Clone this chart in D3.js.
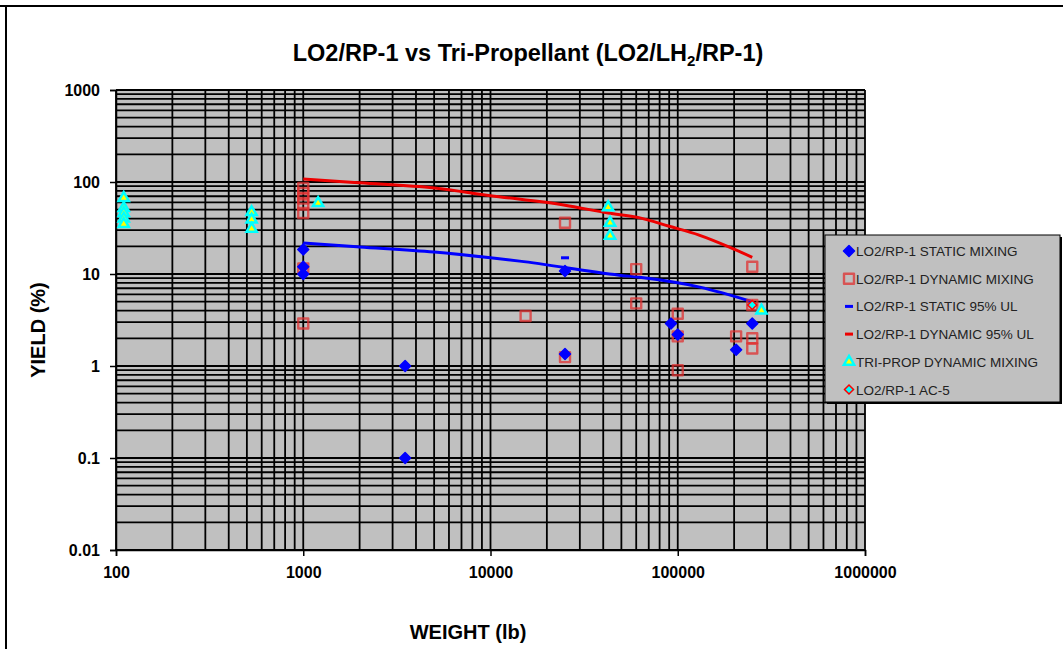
<!DOCTYPE html>
<html>
<head>
<meta charset="utf-8">
<script src="https://cdn.jsdelivr.net/npm/d3@7/dist/d3.min.js"></script>
<style>
  html, body { margin: 0; padding: 0; background: #fff; }
  svg { display: block; font-family: "Liberation Sans", Arial, sans-serif; }
</style>
</head>
<body>
<svg id="chart" width="1063" height="649"></svg>
<script>
// ---- data (weight lb, yield %) ----
const xTicks = [100, 1000, 10000, 100000, 1000000];
const xTickLabels = ["100", "1000", "10000", "100000", "1000000"];
const yTicks = [0.01, 0.1, 1, 10, 100, 1000];
const yTickLabels = ["0.01", "0.1", "1", "10", "100", "1000"];

const staticMixing = [
  [1000, 18.5], [1000, 12], [1000, 10], [3500, 1.0], [3500, 0.1],
  [25000, 10.8], [25000, 1.35], [92000, 2.9], [100000, 2.2],
  [205000, 1.5], [250000, 2.9]
];
const dynamicMixing = [
  [1000, 86], [1000, 76], [1000, 66], [1000, 57], [1000, 46], [1000, 11.5], [1000, 2.9],
  [15400, 3.5], [25000, 36], [25000, 1.25], [60000, 11.3], [60000, 4.8],
  [100000, 3.7], [100000, 2.1], [100000, 0.9], [205000, 2.1],
  [250000, 12], [250000, 4.6], [250000, 2.0], [250000, 1.55]
];
const staticUL = [
  [1000, 21.7], [2000, 19.7], [5000, 17.3], [10000, 15], [14300, 13.8],
  [48700, 9.7], [62400, 9.2], [131000, 7.2], [250000, 5.0]
];
const staticULMarks = [[25000, 15]];
const dynamicUL = [
  [1000, 108], [2000, 98], [5000, 86], [10000, 71], [25000, 56],
  [42500, 46], [62000, 41], [90000, 33], [130000, 26.5], [190000, 19.5], [250000, 15.2]
];
const triProp = [
  [110, 67], [110, 52], [110, 46], [110, 40], [110, 35],
  [530, 47], [530, 39], [530, 31], [1200, 59],
  [42500, 53], [43500, 36], [43500, 26], [280000, 4.0]
];
const ac5 = [[250000, 4.6]];

const legendLabels = [
  "LO2/RP-1 STATIC MIXING", "LO2/RP-1 DYNAMIC MIXING", "LO2/RP-1 STATIC 95% UL",
  "LO2/RP-1 DYNAMIC 95% UL", "TRI-PROP DYNAMIC MIXING", "LO2/RP-1 AC-5"
];

// ---- drawing ----
const svg = d3.select("#chart");
const L = 116, R = 865, T = 90, B = 550;
const x = d3.scaleLog().domain([100, 1e6]).range([L, R]);
const y = d3.scaleLog().domain([0.01, 1000]).range([B, T]);

// outer frame
svg.append("path").attr("d", "M0,6 H1063 M6,6 V649")
  .attr("stroke", "#000").attr("stroke-width", 2).attr("fill", "none");

// plot background
svg.append("rect").attr("x", L).attr("y", T).attr("width", R - L).attr("height", B - T)
  .attr("fill", "#c0c0c0");

// grid values
function logGrid(lo, hi) {
  const v = [];
  for (let e = Math.log10(lo); e < Math.log10(hi); e++) {
    for (let k = 1; k <= 9; k++) v.push(k * Math.pow(10, e));
  }
  v.push(hi);
  return v;
}
const grid = svg.append("g");
grid.selectAll("line.gx").data(logGrid(100, 1e6)).enter().append("line")
  .attr("x1", d => x(d)).attr("x2", d => x(d)).attr("y1", T).attr("y2", B)
  .attr("stroke", "#000").attr("stroke-width", 1.8);
grid.selectAll("line.gy").data(logGrid(0.01, 1000)).enter().append("line")
  .attr("y1", d => y(d)).attr("y2", d => y(d)).attr("x1", L).attr("x2", R)
  .attr("stroke", "#000").attr("stroke-width", 1.8);

// axes
const xAxis = d3.axisBottom(x).tickValues(xTicks)
  .tickFormat((d, i) => xTickLabels[i]).tickSize(6).tickPadding(11);
const yAxis = d3.axisLeft(y).tickValues(yTicks)
  .tickFormat((d, i) => yTickLabels[i]).tickSize(6).tickPadding(10);
const gx = svg.append("g").attr("transform", `translate(0,${B})`).call(xAxis);
const gy = svg.append("g").attr("transform", `translate(${L},0)`).call(yAxis);
[gx, gy].forEach(g => {
  g.selectAll("path, line").attr("stroke", "#000").attr("stroke-width", 1.5);
  g.selectAll("text").attr("font-size", 16).attr("font-weight", "bold")
    .attr("fill", "#000").attr("font-family", "Liberation Sans, Arial, sans-serif");
});

// title
const title = svg.append("text").attr("x", 528).attr("y", 61).attr("text-anchor", "middle")
  .attr("font-size", 23.5).attr("font-weight", "bold").attr("fill", "#000");
title.append("tspan").text("LO2/RP-1 vs Tri-Propellant (LO2/LH");
title.append("tspan").attr("font-size", 15).attr("dy", 5).text("2");
title.append("tspan").attr("dy", -5).text("/RP-1)");

// axis titles
svg.append("text").attr("transform", "translate(45,330) rotate(-90)")
  .attr("text-anchor", "middle").attr("font-size", 20).attr("font-weight", "bold")
  .text("YIELD (%)");
svg.append("text").attr("x", 468).attr("y", 639).attr("text-anchor", "middle")
  .attr("font-size", 20).attr("font-weight", "bold").text("WEIGHT (lb)");

// lines
const line = d3.line().x(d => x(d[0])).y(d => y(d[1])).curve(d3.curveMonotoneX);
svg.append("path").datum(dynamicUL).attr("d", line)
  .attr("fill", "none").attr("stroke", "#ee0000").attr("stroke-width", 3);
svg.append("path").datum(staticUL).attr("d", line)
  .attr("fill", "none").attr("stroke", "#0000ff").attr("stroke-width", 3);

// marker shapes
const diamondPath = r => `M0,${-r}L${r},0L0,${r}L${-r},0Z`;
const squareSym = d3.symbol().type(d3.symbolSquare).size(100);
const triSym = d3.symbol().type(d3.symbolTriangle).size(45);

function drawStatic(g, px, py) {
  g.append("path").attr("d", diamondPath(5.5)).attr("transform", `translate(${px},${py})`)
    .attr("fill", "#0000ff").attr("stroke", "#0000ff").attr("stroke-width", 1.5)
    .attr("stroke-linejoin", "round");
}
function drawDynamic(g, px, py) {
  g.append("path").attr("d", squareSym()).attr("transform", `translate(${px},${py})`)
    .attr("fill", "none").attr("stroke", "#e03030").attr("stroke-opacity", 0.75)
    .attr("stroke-width", 2.4).attr("stroke-linejoin", "round");
}
function drawDash(g, px, py, color) {
  g.append("rect").attr("x", px - 4).attr("y", py - 1.5).attr("width", 8).attr("height", 3)
    .attr("fill", color);
}
function drawTri(g, px, py) {
  g.append("path").attr("d", triSym()).attr("transform", `translate(${px},${py})`)
    .attr("fill", "#ffff00").attr("stroke", "#00ffff").attr("stroke-width", 2.5);
}
function drawAC5(g, px, py) {
  g.append("path").attr("d", diamondPath(4.5)).attr("transform", `translate(${px},${py})`)
    .attr("fill", "#00ffff").attr("stroke", "#ff0000").attr("stroke-width", 1.5);
}

const marks = svg.append("g");
dynamicMixing.forEach(d => drawDynamic(marks, x(d[0]), y(d[1])));
staticMixing.forEach(d => drawStatic(marks, x(d[0]), y(d[1])));
staticULMarks.forEach(d => drawDash(marks, x(d[0]), y(d[1]), "#0000ff"));
triProp.forEach(d => drawTri(marks, x(d[0]), y(d[1])));
ac5.forEach(d => drawAC5(marks, x(d[0]), y(d[1])));

// legend
const lg = svg.append("g");
lg.append("rect").attr("x", 827).attr("y", 237).attr("width", 235).attr("height", 167).attr("fill", "#000");
lg.append("rect").attr("x", 825).attr("y", 235).attr("width", 235).attr("height", 167)
  .attr("fill", "#c0c0c0").attr("stroke", "#000").attr("stroke-width", 1);
const ly0 = 251, lstep = 27.7, mx = 849;
const legendDrawers = [
  (g, py) => drawStatic(g, mx, py),
  (g, py) => drawDynamic(g, mx, py),
  (g, py) => drawDash(g, mx, py, "#0000ff"),
  (g, py) => drawDash(g, mx, py, "#ee0000"),
  (g, py) => drawTri(g, mx, py),
  (g, py) => drawAC5(g, mx, py)
];
legendLabels.forEach((t, i) => {
  const py = ly0 + i * lstep;
  legendDrawers[i](lg, py);
  lg.append("text").attr("x", 856).attr("y", py + 5).attr("font-size", 13.5)
    .attr("fill", "#222").text(t);
});
</script>
</body>
</html>
